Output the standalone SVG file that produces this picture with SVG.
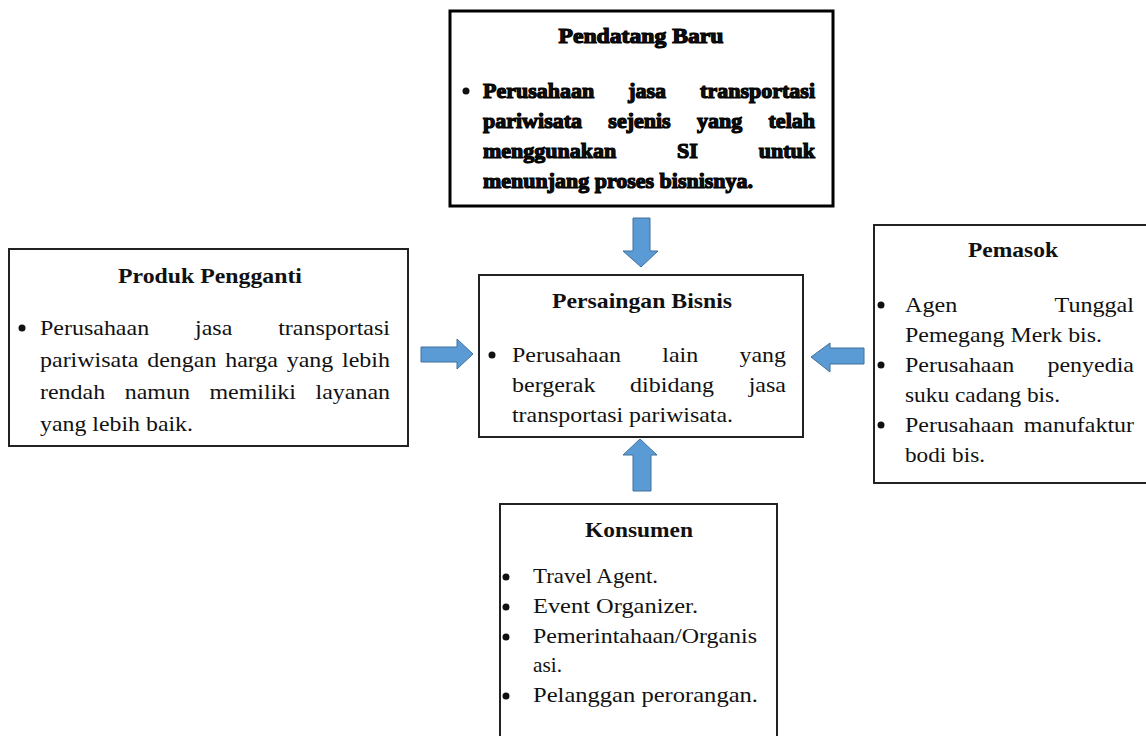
<svg xmlns="http://www.w3.org/2000/svg" width="1146" height="736" viewBox="0 0 1146 736">
<style>
.box{fill:#fff;stroke:#222;stroke-width:2}
.t{font-family:"Liberation Serif","Times New Roman",serif;font-size:21px;fill:#111}
.h{font-weight:bold;text-anchor:middle}
.hv{font-size:22px;font-weight:bold;stroke:#000;stroke-width:1.2px}
.arr{fill:#5B9BD5;stroke:#41719C;stroke-width:1}
.b{fill:#111}
</style>
<rect width="1146" height="736" fill="#fff"/>
<g id="pendatang-baru">
<rect x="450" y="11" width="383" height="195" fill="#fff" stroke="#000" stroke-width="3"/>
<text class="t h hv" x="641" y="43" textLength="165" lengthAdjust="spacingAndGlyphs">Pendatang Baru</text>
<circle class="b" cx="466" cy="91" r="3.5"/>
<text class="t hv" x="483" y="98" textLength="332" lengthAdjust="spacingAndGlyphs" word-spacing="28.5">Perusahaan jasa transportasi</text>
<text class="t hv" x="483" y="128" textLength="332" lengthAdjust="spacingAndGlyphs" word-spacing="20.8">pariwisata sejenis yang telah</text>
<text class="t hv" x="483" y="158" textLength="332" lengthAdjust="spacingAndGlyphs" word-spacing="55.3">menggunakan SI untuk</text>
<text class="t hv" x="483" y="188" textLength="270" lengthAdjust="spacingAndGlyphs">menunjang proses bisnisnya.</text>
</g>
<g id="produk-pengganti">
<rect class="box" x="9" y="249" width="399" height="197"/>
<text class="t h" x="210" y="283" textLength="184" lengthAdjust="spacingAndGlyphs">Produk Pengganti</text>
<circle class="b" cx="22" cy="328" r="3.5"/>
<text class="t" x="40" y="335" textLength="350" lengthAdjust="spacingAndGlyphs" word-spacing="35">Perusahaan jasa transportasi</text>
<text class="t" x="40" y="367" textLength="350" lengthAdjust="spacingAndGlyphs" word-spacing="2.4">pariwisata dengan harga yang lebih</text>
<text class="t" x="40" y="399" textLength="350" lengthAdjust="spacingAndGlyphs" word-spacing="11.9">rendah namun memiliki layanan</text>
<text class="t" x="40" y="431" textLength="153" lengthAdjust="spacingAndGlyphs">yang lebih baik.</text>
</g>
<g id="persaingan-bisnis">
<rect class="box" x="479" y="275" width="324" height="162"/>
<text class="t h" x="642" y="308" textLength="180" lengthAdjust="spacingAndGlyphs">Persaingan Bisnis</text>
<circle class="b" cx="492" cy="355" r="3.5"/>
<text class="t" x="512" y="362" textLength="274" lengthAdjust="spacingAndGlyphs" word-spacing="31">Perusahaan lain yang</text>
<text class="t" x="512" y="392" textLength="274" lengthAdjust="spacingAndGlyphs" word-spacing="25">bergerak dibidang jasa</text>
<text class="t" x="512" y="422" textLength="221" lengthAdjust="spacingAndGlyphs">transportasi pariwisata.</text>
</g>
<g id="pemasok">
<rect class="box" x="874" y="225" width="290" height="258"/>
<text class="t h" x="1013" y="257" textLength="90" lengthAdjust="spacingAndGlyphs">Pemasok</text>
<circle class="b" cx="881" cy="305" r="3.5"/>
<text class="t" x="905" y="312" textLength="229" lengthAdjust="spacingAndGlyphs" word-spacing="80">Agen Tunggal</text>
<text class="t" x="905" y="342" textLength="197" lengthAdjust="spacingAndGlyphs">Pemegang Merk bis.</text>
<circle class="b" cx="881" cy="365" r="3.5"/>
<text class="t" x="905" y="372" textLength="229" lengthAdjust="spacingAndGlyphs" word-spacing="24">Perusahaan penyedia</text>
<text class="t" x="905" y="402" textLength="155" lengthAdjust="spacingAndGlyphs">suku cadang bis.</text>
<circle class="b" cx="881" cy="425" r="3.5"/>
<text class="t" x="905" y="432" textLength="229" lengthAdjust="spacingAndGlyphs" word-spacing="3.3">Perusahaan manufaktur</text>
<text class="t" x="905" y="462" textLength="80" lengthAdjust="spacingAndGlyphs">bodi bis.</text>
</g>
<g id="konsumen">
<rect class="box" x="500" y="504" width="277" height="260"/>
<text class="t h" x="639" y="537" textLength="108" lengthAdjust="spacingAndGlyphs">Konsumen</text>
<circle class="b" cx="506" cy="577" r="3.5"/>
<text class="t" x="533" y="583" textLength="125" lengthAdjust="spacingAndGlyphs">Travel Agent.</text>
<circle class="b" cx="506" cy="607" r="3.5"/>
<text class="t" x="533" y="613" textLength="165" lengthAdjust="spacingAndGlyphs">Event Organizer.</text>
<circle class="b" cx="506" cy="637" r="3.5"/>
<text class="t" x="533" y="643" textLength="224" lengthAdjust="spacingAndGlyphs">Pemerintahaan/Organis</text>
<text class="t" x="533" y="672" textLength="29" lengthAdjust="spacingAndGlyphs">asi.</text>
<circle class="b" cx="506" cy="696" r="3.5"/>
<text class="t" x="533" y="702" textLength="225" lengthAdjust="spacingAndGlyphs">Pelanggan perorangan.</text>
</g>
<g id="connectors">
<path class="arr" d="M633,218 H650 V251 H658 L641,267 L623,251 H633 Z"/>
<path class="arr" d="M421,347 H457 V339 L473,354 L457,369 V362 H421 Z"/>
<path class="arr" d="M864,348 H830 V343 L811,357 L830,372 V364 H864 Z"/>
<path class="arr" d="M633,491 V455 H623 L640,439 L657,455 H651 V491 Z"/>
</g>
</svg>
